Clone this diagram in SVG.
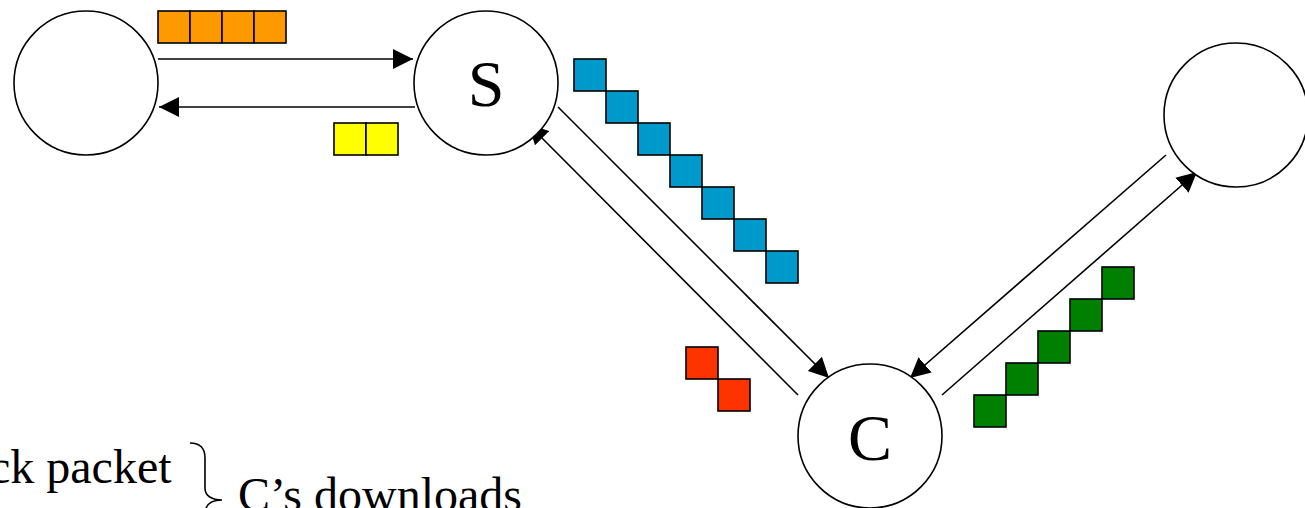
<svg xmlns="http://www.w3.org/2000/svg" width="1305" height="508" viewBox="0 0 1305 508">
<style>
.node{fill:#fff;stroke:#000;stroke-width:1.6}
.lbl{font-family:"Liberation Serif","Times New Roman",serif;font-size:66px;fill:#000;text-anchor:middle}
.txt{font-family:"Liberation Serif","Times New Roman",serif;font-size:48px;fill:#000}
.edge{stroke:#000;stroke-width:1.6;fill:none;marker-end:url(#ah)}
.pk{stroke:#000;stroke-width:1.6}
.o{fill:#FF9900}.y{fill:#FFFF00}.b{fill:#0099CC}.r{fill:#FF3300}.g{fill:#008000}
</style>
<defs>
<marker id="ah" markerUnits="userSpaceOnUse" markerWidth="20" markerHeight="20" refX="20" refY="10" orient="auto">
<path d="M0,0 L20,10 L0,20 z" fill="#000"/>
</marker>
</defs>
<rect width="1305" height="508" fill="#fff"/>
<g id="connectors">
<line class="edge" x1="158" y1="59" x2="413" y2="59"/>
<line class="edge" x1="415" y1="107" x2="159" y2="107"/>
<line class="edge" x1="558" y1="107" x2="829" y2="378"/>
<line class="edge" x1="798" y1="395" x2="528" y2="124"/>
<line class="edge" x1="1166" y1="155" x2="910" y2="378"/>
<line class="edge" x1="942" y1="395" x2="1197" y2="172"/>
</g>
<g id="node-left"><circle class="node" cx="86" cy="83" r="72"/></g>
<g id="node-S"><circle class="node" cx="486" cy="83" r="72"/><text class="lbl" x="486" y="106">S</text></g>
<g id="node-right"><circle class="node" cx="1236" cy="115" r="72"/></g>
<g id="node-C"><circle class="node" cx="870" cy="436" r="72"/><text class="lbl" x="870" y="460">C</text></g>
<g id="packets-orange">
<rect class="pk o" x="158" y="11" width="32" height="32"/>
<rect class="pk o" x="190" y="11" width="32" height="32"/>
<rect class="pk o" x="222" y="11" width="32" height="32"/>
<rect class="pk o" x="254" y="11" width="32" height="32"/>
</g>
<g id="packets-yellow">
<rect class="pk y" x="334" y="123" width="32" height="32"/>
<rect class="pk y" x="366" y="123" width="32" height="32"/>
</g>
<g id="packets-blue">
<rect class="pk b" x="574" y="59" width="32" height="32"/>
<rect class="pk b" x="606" y="91" width="32" height="32"/>
<rect class="pk b" x="638" y="123" width="32" height="32"/>
<rect class="pk b" x="670" y="155" width="32" height="32"/>
<rect class="pk b" x="702" y="187" width="32" height="32"/>
<rect class="pk b" x="734" y="219" width="32" height="32"/>
<rect class="pk b" x="766" y="251" width="32" height="32"/>
</g>
<g id="packets-red">
<rect class="pk r" x="686" y="347" width="32" height="32"/>
<rect class="pk r" x="718" y="379" width="32" height="32"/>
</g>
<g id="packets-green">
<rect class="pk g" x="974" y="395" width="32" height="32"/>
<rect class="pk g" x="1006" y="363" width="32" height="32"/>
<rect class="pk g" x="1038" y="331" width="32" height="32"/>
<rect class="pk g" x="1070" y="299" width="32" height="32"/>
<rect class="pk g" x="1102" y="267" width="32" height="32"/>
</g>
<g id="legend">
<text class="txt" x="-11" y="483">ck packet</text>
<path d="M190,443 C200,443 205,448 205,458 L205,488 C205,496 212,500 222,500 C212,500 205,504 205,514" fill="none" stroke="#000" stroke-width="1.6"/>
<text class="txt" x="238" y="511">C’s downloads</text>
</g>
</svg>
